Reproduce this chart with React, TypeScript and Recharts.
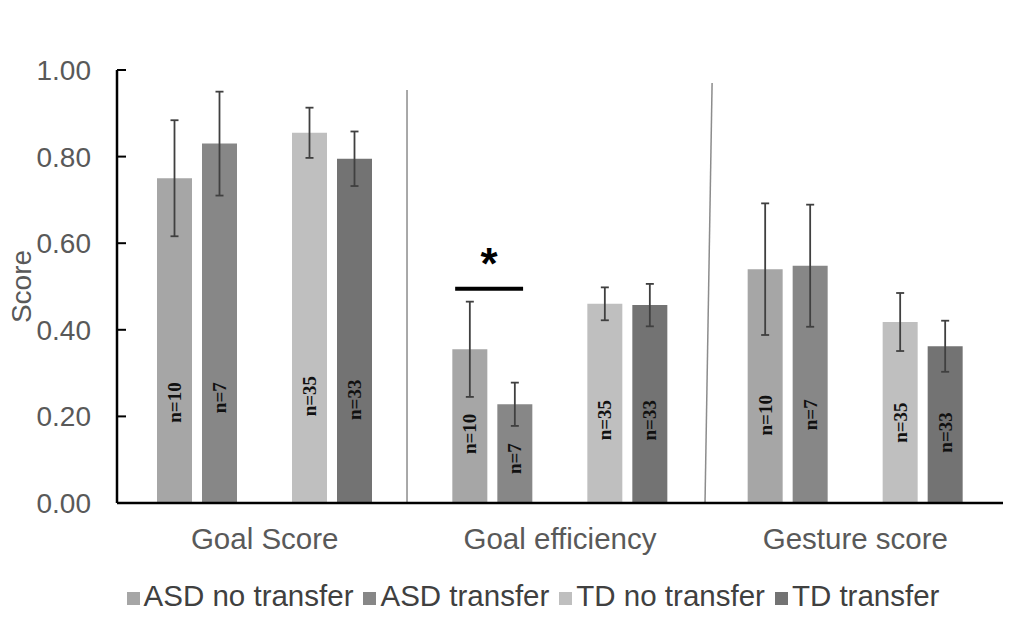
import {
  Bar,
  BarChart,
  ErrorBar,
  LabelList,
  Legend,
  ReferenceLine,
  XAxis,
  YAxis,
} from 'recharts';

const measures = ['Goal Score', 'Goal efficiency', 'Gesture score'];

const asdNoTransfer = [0.75, 0.355, 0.54];
const asdNoTransferErr = [0.134, 0.11, 0.152];
const asdTransfer = [0.83, 0.228, 0.548];
const asdTransferErr = [0.12, 0.05, 0.141];
const tdNoTransfer = [0.855, 0.46, 0.418];
const tdNoTransferErr = [0.058, 0.038, 0.067];
const tdTransfer = [0.795, 0.457, 0.362];
const tdTransferErr = [0.063, 0.049, 0.059];

const nAsdNoTransfer = [10, 10, 10];
const nAsdTransfer = [7, 7, 7];
const nTdNoTransfer = [35, 35, 35];
const nTdTransfer = [33, 33, 33];

const yTicks = [0, 0.2, 0.4, 0.6, 0.8, 1];

const chartData = measures.map((measure, i) => ({
  measure,
  asdNo: asdNoTransfer[i],
  asdNoErr: asdNoTransferErr[i],
  asdNoN: nAsdNoTransfer[i],
  asdTr: asdTransfer[i],
  asdTrErr: asdTransferErr[i],
  asdTrN: nAsdTransfer[i],
  spacer: null,
  tdNo: tdNoTransfer[i],
  tdNoErr: tdNoTransferErr[i],
  tdNoN: nTdNoTransfer[i],
  tdTr: tdTransfer[i],
  tdTrErr: tdTransferErr[i],
  tdTrN: nTdTransfer[i],
}));

const FONT = "'Liberation Sans', Arial, sans-serif";

// n= labels sit rotated inside each bar, near its base
function NLabel(props: any) {
  const { x, y, width, height, value } = props;
  const cx = x + width / 2;
  const off = Math.min(height * 0.45, 55 + 0.14 * height);
  const cy = y + height - off;
  return (
    <text
      x={cx}
      y={cy}
      transform={`rotate(-90 ${cx} ${cy})`}
      textAnchor='middle'
      dominantBaseline='central'
      fontFamily="'Liberation Serif', serif"
      fontWeight={700}
      fontSize={19}
      fill='#111'
    >
      n={value}
    </text>
  );
}

const errProps = { width: 4, strokeWidth: 1.8, stroke: '#404040' };

export default function App() {
  return (
    <div style={{ width: 1017, height: 618, position: 'relative', background: '#fff' }}>
      <style>{'body{margin:0}'}</style>
      <BarChart
        width={1017}
        height={618}
        data={chartData}
        margin={{ top: 70, right: 14, bottom: 0, left: 0 }}
        barCategoryGap={40}
        barGap={10}
        style={{ fontFamily: FONT }}
      >
        <XAxis
          xAxisId='cat'
          dataKey='measure'
          height={115}
          interval={0}
          axisLine={{ stroke: '#000', strokeWidth: 2.5 }}
          tickLine={false}
          tickSize={0}
          tickMargin={25}
          tick={{ fontSize: 29.5, fill: '#595959' }}
        />
        {/* hidden linear axis spanning the same width, used for annotation lines */}
        <XAxis
          xAxisId='num'
          type='number'
          dataKey={(d: any) => measures.indexOf(d.measure) + 0.5}
          domain={[0, 3]}
          hide
          allowDataOverflow
        />
        <YAxis
          width={117}
          domain={[0, 1]}
          ticks={yTicks}
          tickFormatter={v => Number(v).toFixed(2)}
          axisLine={{ stroke: '#000', strokeWidth: 2.5 }}
          tickLine={{ stroke: '#000', strokeWidth: 2 }}
          tickSize={-9}
          tickMargin={35}
          tick={{ fontSize: 28, fill: '#595959' }}
          label={{
            value: 'Score',
            angle: -90,
            position: 'center',
            dx: -37,
            fontSize: 28,
            fill: '#595959',
          }}
        />
        <ReferenceLine
          xAxisId='num'
          segment={[{ x: 0.982, y: 0 }, { x: 0.982, y: 0.954 }]}
          stroke='#8c8c8c'
          strokeWidth={1.5}
        />
        <ReferenceLine
          xAxisId='num'
          segment={[{ x: 1.991, y: 0 }, { x: 2.015, y: 0.97 }]}
          stroke='#8c8c8c'
          strokeWidth={1.5}
        />
        <Bar xAxisId='cat' dataKey='asdNo' name='ASD no transfer' fill='#a6a6a6' isAnimationActive={false}>
          <ErrorBar dataKey='asdNoErr' {...errProps} />
          <LabelList dataKey='asdNoN' content={NLabel} />
        </Bar>
        <Bar xAxisId='cat' dataKey='asdTr' name='ASD transfer' fill='#878787' isAnimationActive={false}>
          <ErrorBar dataKey='asdTrErr' {...errProps} />
          <LabelList dataKey='asdTrN' content={NLabel} />
        </Bar>
        <Bar xAxisId='cat' dataKey='spacer' legendType='none' fill='none' isAnimationActive={false} />
        <Bar xAxisId='cat' dataKey='tdNo' name='TD no transfer' fill='#bfbfbf' isAnimationActive={false}>
          <ErrorBar dataKey='tdNoErr' {...errProps} />
          <LabelList dataKey='tdNoN' content={NLabel} />
        </Bar>
        <Bar xAxisId='cat' dataKey='tdTr' name='TD transfer' fill='#737373' isAnimationActive={false}>
          <ErrorBar dataKey='tdTrErr' {...errProps} />
          <LabelList dataKey='tdTrN' content={NLabel} />
        </Bar>
        <ReferenceLine
          xAxisId='num'
          segment={[{ x: 1.145, y: 0.495 }, { x: 1.375, y: 0.495 }]}
          stroke='#000'
          strokeWidth={4}
          label={{ value: '*', position: 'top', offset: 10, fontSize: 44, fontWeight: 700, fill: '#000' }}
        />
        <Legend
          verticalAlign='middle'
          align='center'
          iconType='square'
          iconSize={13}
          wrapperStyle={{ top: 579, left: 118, width: 840, fontSize: 29.5, fontFamily: FONT }}
          formatter={value => <span style={{ color: '#404040' }}>{value}</span>}
        />
      </BarChart>
    </div>
  );
}
